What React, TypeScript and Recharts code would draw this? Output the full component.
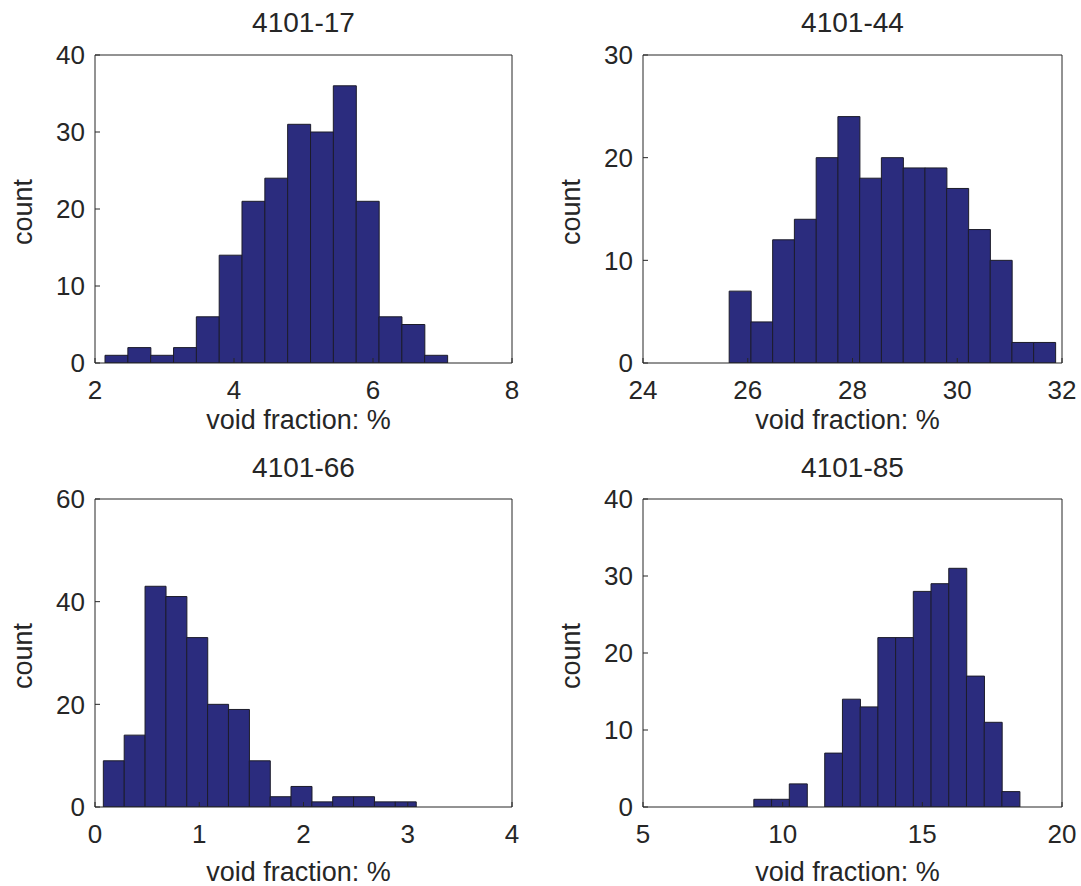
import React from 'react';
import { BarChart, Bar, XAxis, YAxis } from 'recharts';

const FONT = '"Liberation Sans", Arial, sans-serif';
const INK = '#262626';
const BAR_FILL = '#2b2c7e';
const BAR_EDGE = '#1c1c2a';

// 4101-17
const titleA = '4101-17';
const centersA = [2.308, 2.637, 2.965, 3.294, 3.622, 3.951, 4.279, 4.608, 4.936, 5.265, 5.593, 5.922, 6.25, 6.579, 6.907];
const countsA = [1, 2, 1, 2, 6, 14, 21, 24, 31, 30, 36, 21, 6, 5, 1];
const xTicksA = [2, 4, 6, 8];
const yTicksA = [0, 10, 20, 30, 40];

// 4101-44
const titleB = '4101-44';
const centersB = [25.853, 26.268, 26.683, 27.098, 27.514, 27.929, 28.344, 28.759, 29.175, 29.59, 30.005, 30.42, 30.836, 31.251, 31.666];
const countsB = [7, 4, 12, 14, 20, 24, 18, 20, 19, 19, 17, 13, 10, 2, 2];
const xTicksB = [24, 26, 28, 30, 32];
const yTicksB = [0, 10, 20, 30];

// 4101-66
const titleC = '4101-66';
const centersC = [0.18, 0.38, 0.58, 0.78, 0.98, 1.18, 1.38, 1.58, 1.78, 1.98, 2.18, 2.38, 2.58, 2.78, 2.98];
const countsC = [9, 14, 43, 41, 33, 20, 19, 9, 2, 4, 1, 2, 2, 1, 1];
const xTicksC = [0, 1, 2, 3, 4];
const yTicksC = [0, 20, 40, 60];

// 4101-85
const titleD = '4101-85';
const centersD = [9.285, 9.92, 10.554, 11.188, 11.823, 12.457, 13.091, 13.725, 14.36, 14.994, 15.628, 16.263, 16.897, 17.531, 18.166];
const countsD = [1, 1, 3, 0, 7, 14, 13, 22, 22, 28, 29, 31, 17, 11, 2];
const xTicksD = [5, 10, 15, 20];
const yTicksD = [0, 10, 20, 30, 40];

const xLabel = 'void fraction: %';
const yLabel = 'count';

type Plot = { x0: number; x1: number; y0: number; y1: number };

type HistProps = {
  title: string;
  centers: number[];
  counts: number[];
  xTicks: number[];
  yTicks: number[];
  left: number;
  top: number;
  width: number;
  height: number;
  plot: Plot;
  titleY: number;
  xLabelY: number;
};

const Hist = ({ centers, counts, xTicks, yTicks, left, top, width, height, plot }: HistProps) => {
  const rows = centers.map((x, i) => ({ x, count: counts[i] }));
  const xDomain = [xTicks[0], xTicks[xTicks.length - 1]];
  const yDomain = [yTicks[0], yTicks[yTicks.length - 1]];
  const tickStyle = { fontSize: 26, fill: INK, fontFamily: FONT };

  // top / right axes are 1px wide so that recharts still draws them (the box + inner ticks)
  return (
    <div style={{ position: 'absolute', left, top }}>
      <BarChart
        width={width}
        height={height}
        data={rows}
        barCategoryGap={0}
        barGap={0}
        margin={{ top: plot.y0 - top - 1, right: left + width - plot.x1 - 1, left: 0, bottom: 0 }}
        style={{ fontFamily: FONT }}
      >
        <XAxis
          dataKey="x"
          type="number"
          domain={xDomain}
          ticks={xTicks}
          interval={0}
          height={top + height - plot.y1}
          stroke={INK}
          tickSize={-5}
          tickMargin={23}
          tick={tickStyle}
          allowDataOverflow
        />
        <XAxis
          xAxisId="top"
          orientation="top"
          type="number"
          domain={xDomain}
          ticks={xTicks}
          interval={0}
          height={1}
          stroke={INK}
          tickSize={-5}
          tick={false}
          allowDataOverflow
        />
        <YAxis
          type="number"
          domain={yDomain}
          ticks={yTicks}
          interval={0}
          width={plot.x0 - left}
          stroke={INK}
          tickSize={-5}
          tickMargin={15}
          tick={tickStyle}
          allowDataOverflow
        />
        <YAxis
          yAxisId="right"
          orientation="right"
          type="number"
          domain={yDomain}
          ticks={yTicks}
          interval={0}
          width={1}
          stroke={INK}
          tickSize={-5}
          tick={false}
          allowDataOverflow
        />
        <Bar dataKey="count" fill={BAR_FILL} stroke={BAR_EDGE} strokeWidth={1} isAnimationActive={false} />
      </BarChart>
    </div>
  );
};

const panels: HistProps[] = [
  {
    title: titleA, centers: centersA, counts: countsA, xTicks: xTicksA, yTicks: yTicksA,
    left: 0, top: 0, width: 540, height: 443,
    plot: { x0: 95, x1: 512, y0: 55, y1: 363 }, titleY: 32, xLabelY: 429,
  },
  {
    title: titleB, centers: centersB, counts: countsB, xTicks: xTicksB, yTicks: yTicksB,
    left: 540, top: 0, width: 541, height: 443,
    plot: { x0: 643, x1: 1062, y0: 55, y1: 363 }, titleY: 32, xLabelY: 429,
  },
  {
    title: titleC, centers: centersC, counts: countsC, xTicks: xTicksC, yTicks: yTicksC,
    left: 0, top: 443, width: 540, height: 443,
    plot: { x0: 95, x1: 512, y0: 499, y1: 807 }, titleY: 477, xLabelY: 881,
  },
  {
    title: titleD, centers: centersD, counts: countsD, xTicks: xTicksD, yTicks: yTicksD,
    left: 540, top: 443, width: 541, height: 443,
    plot: { x0: 643, x1: 1062, y0: 499, y1: 807 }, titleY: 477, xLabelY: 881,
  },
];

export default function App() {
  return (
    <div style={{ position: 'absolute', left: 0, top: 0, width: 1081, height: 886, background: '#fff', fontFamily: FONT }}>
      {panels.map((p) => (
        <Hist key={p.title} {...p} />
      ))}
      {/* titles and axis labels */}
      <svg width={1081} height={886} style={{ position: 'absolute', left: 0, top: 0, pointerEvents: 'none' }}>
        {panels.map((p) => {
          const cx = (p.plot.x0 + p.plot.x1) / 2;
          const cy = (p.plot.y0 + p.plot.y1) / 2;
          return (
            <g key={p.title} fontFamily={FONT} fill={INK}>
              <text x={cx} y={p.titleY} fontSize={28} textAnchor="middle">{p.title}</text>
              <text x={cx - 5} y={p.xLabelY} fontSize={27} textAnchor="middle">{xLabel}</text>
              <text
                x={p.plot.x0 - 63}
                y={cy + 3}
                fontSize={27}
                textAnchor="middle"
                transform={`rotate(-90 ${p.plot.x0 - 63} ${cy + 3})`}
              >
                {yLabel}
              </text>
            </g>
          );
        })}
      </svg>
    </div>
  );
}
